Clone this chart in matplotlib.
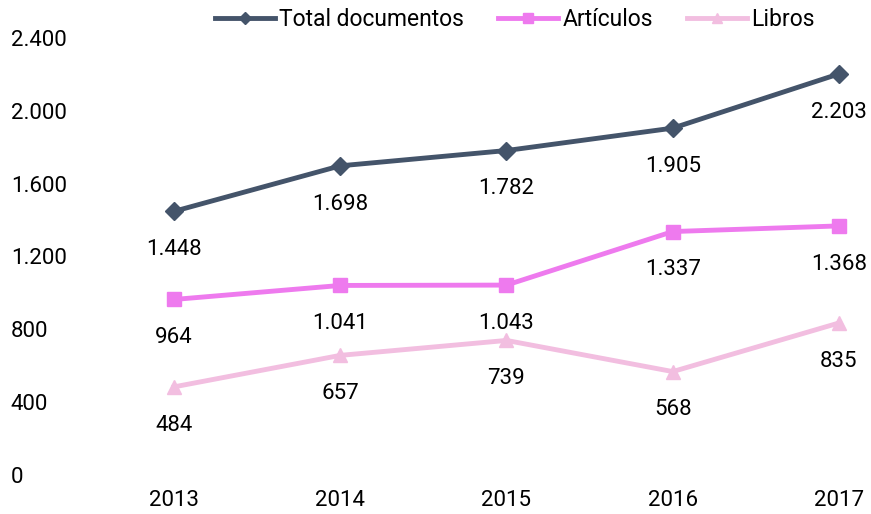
import matplotlib.pyplot as plt

years = [2013, 2014, 2015, 2016, 2017]
total = [1448, 1698, 1782, 1905, 2203]
articulos = [964, 1041, 1043, 1337, 1368]
libros = [484, 657, 739, 568, 835]
series_names = ['Total documentos', 'Artículos', 'Libros']
yticks = [0, 400, 800, 1200, 1600, 2000, 2400]


def fmt(v):
    return f'{v:,}'.replace(',', '.')


plt.rcParams['font.family'] = ['Roboto', 'DejaVu Sans']

fig = plt.figure(figsize=(8.71, 5.14), dpi=100)
ax = fig.add_axes([90 / 871, (514 - 475) / 514, 1 - 90 / 871, 437 / 514])

styles = [
    ('#44546A', 'D', 9),
    ('#EE7AEE', 's', 10),
    ('#F2BEE0', '^', 10),
]
for name, vals, (col, mk, ms) in zip(series_names, [total, articulos, libros], styles):
    ax.plot(years, vals, color=col, lw=3.5, marker=mk, ms=ms, label=name,
            solid_joinstyle='round', clip_on=False)
    for x, v in zip(years, vals):
        ax.annotate(fmt(v), (x, v), xytext=(0, -27.5), textcoords='offset points',
                    ha='center', va='center', fontsize=16, color='#000000')

ax.set_xlim(2013 - 84 / 166.25, 2017 + 32 / 166.25)
ax.set_ylim(0, 2400)
ax.set_xticks(years)
ax.set_xticklabels([str(y) for y in years])
ax.set_yticks(yticks)
ax.set_yticklabels([fmt(v) for v in yticks])
for lab in ax.get_yticklabels():
    lab.set_ha('left')
ax.tick_params(axis='y', length=0, pad=57, labelsize=16)
ax.tick_params(axis='x', length=0, pad=11, labelsize=16)
for s in ax.spines.values():
    s.set_visible(False)

ax.legend(loc='center', bbox_to_anchor=(515 / 871, 1 - 20 / 514),
          bbox_transform=fig.transFigure, ncol=3, frameon=False, markerscale=0.7,
          fontsize=16.5, handlelength=2.6, columnspacing=1.5, handletextpad=0.2)

fig.savefig('out.png', dpi=100)
